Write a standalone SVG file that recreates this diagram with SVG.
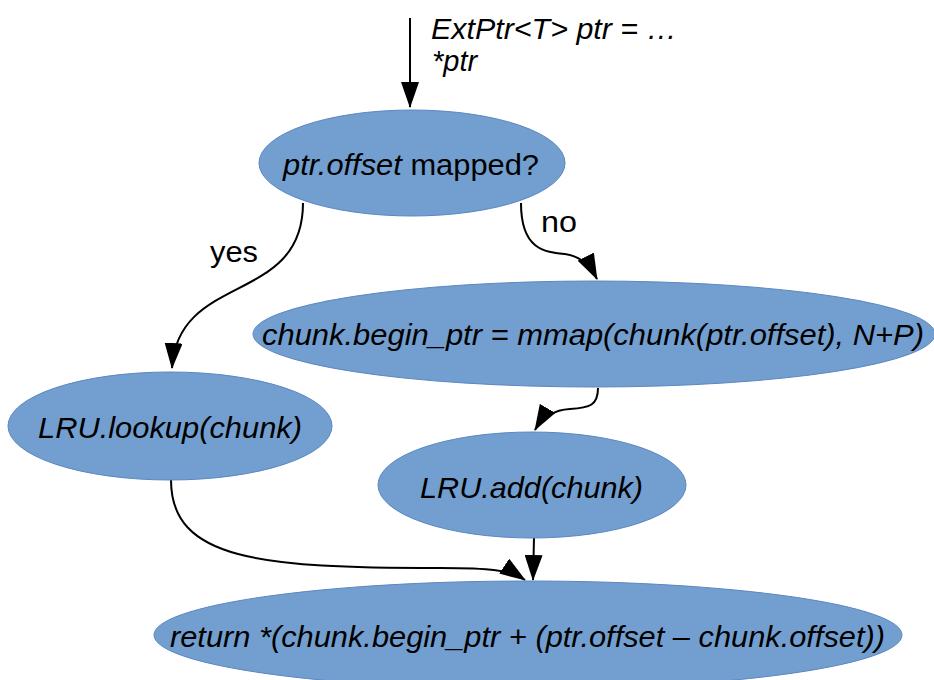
<svg xmlns="http://www.w3.org/2000/svg" width="934" height="680" viewBox="0 0 934 680">
  <style>
    .node { fill: #729fcf; stroke: #5b87c0; stroke-width: 1; }
    .t { font-family: "Liberation Sans", Arial, sans-serif; font-size: 29px; fill: #000; }
    .i { font-style: italic; }
    .edge { fill: none; stroke: #000; stroke-width: 2; }
  </style>
  <defs>
    <marker id="arrow" markerUnits="userSpaceOnUse" markerWidth="26" markerHeight="18" refX="25" refY="9" orient="auto">
      <path d="M0,0 L26,9 L0,18 z" fill="#000"/>
    </marker>
  </defs>

  <rect width="934" height="680" fill="#fff"/>

  <g id="connectors">
    <path class="edge" d="M410,18 L410,107" marker-end="url(#arrow)"/>
    <path class="edge" d="M303,203 C303,305 178,272 172,368" marker-end="url(#arrow)"/>
    <path class="edge" d="M521,203 C521,250 545,252 565,254 C580,256 590,265 597,279" marker-end="url(#arrow)"/>
    <path class="edge" d="M598,388 C598,405 590,408 570,409 C552,410 542,418 535,430" marker-end="url(#arrow)"/>
    <path class="edge" d="M171,480 C171,560 260,568 440,568 C490,568 510,570 525,580" marker-end="url(#arrow)"/>
    <path class="edge" d="M534,538 L533,580" marker-end="url(#arrow)"/>
    <text class="t i" x="431" y="39" textLength="246" lengthAdjust="spacingAndGlyphs">ExtPtr&lt;T&gt; ptr = …</text>
    <text class="t i" x="432" y="71">*ptr</text>
    <text class="t" x="210" y="262" textLength="48" lengthAdjust="spacingAndGlyphs">yes</text>
    <text class="t" x="541" y="232" textLength="36" lengthAdjust="spacingAndGlyphs">no</text>
  </g>

  <g id="mapped">
    <ellipse class="node" cx="412" cy="163" rx="153" ry="53"/>
    <text class="t" x="283" y="175" textLength="256" lengthAdjust="spacingAndGlyphs"><tspan class="i">ptr.offset</tspan> mapped?</text>
  </g>

  <g id="mmap">
    <ellipse class="node" cx="594" cy="334" rx="341" ry="53"/>
    <text class="t i" x="262" y="345" textLength="662" lengthAdjust="spacingAndGlyphs">chunk.begin_ptr = mmap(chunk(ptr.offset), N+P)</text>
  </g>

  <g id="lookup">
    <ellipse class="node" cx="170" cy="426" rx="162" ry="54"/>
    <text class="t i" x="38" y="438" textLength="264" lengthAdjust="spacingAndGlyphs">LRU.lookup(chunk)</text>
  </g>

  <g id="add">
    <ellipse class="node" cx="532" cy="485" rx="154" ry="53"/>
    <text class="t i" x="420" y="498" textLength="223" lengthAdjust="spacingAndGlyphs">LRU.add(chunk)</text>
  </g>

  <g id="return">
    <ellipse class="node" cx="528" cy="635" rx="374" ry="54"/>
    <text class="t i" x="170" y="647" textLength="715" lengthAdjust="spacingAndGlyphs">return *(chunk.begin_ptr + (ptr.offset – chunk.offset))</text>
  </g>
</svg>
